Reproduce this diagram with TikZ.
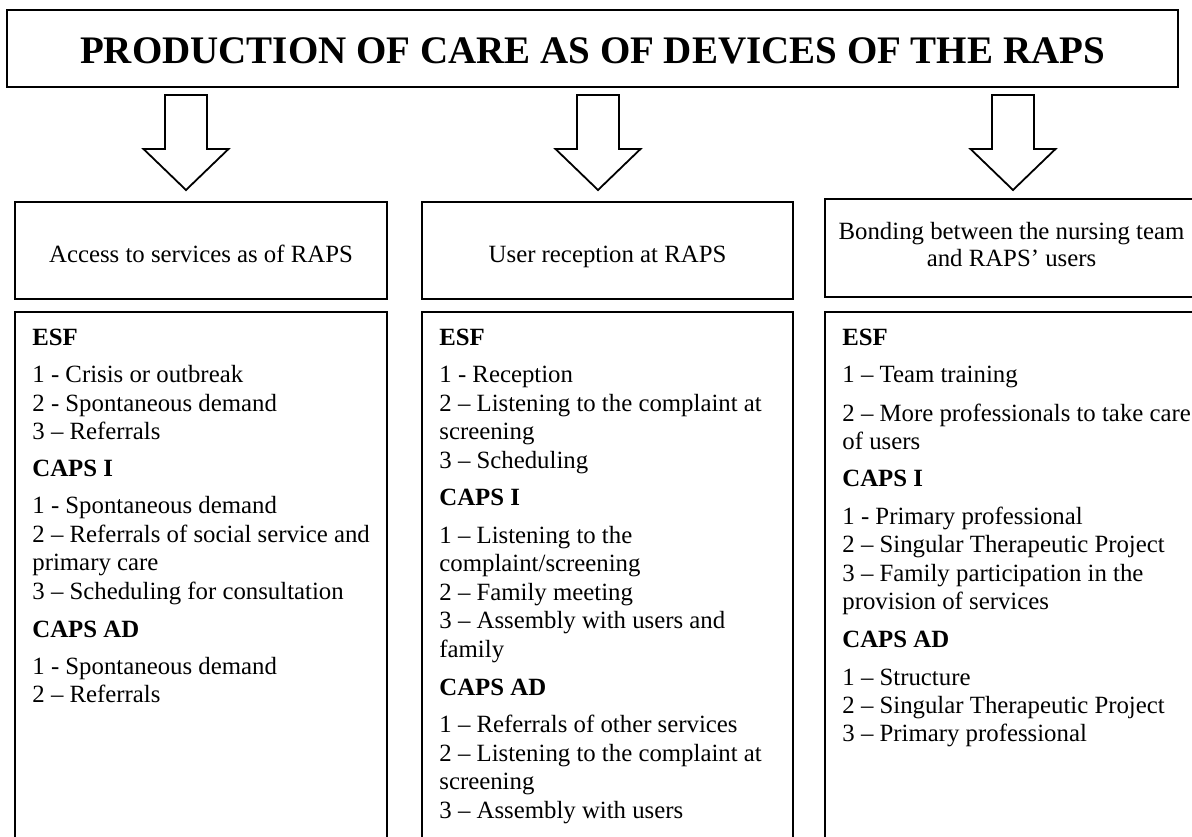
\documentclass[tikz,border=0pt]{standalone}
\usepackage{fontspec}
\setmainfont{Liberation Serif}
\usepackage{tikz}
\usetikzlibrary{fit}
\newcommand{\bodyfont}{\fontsize{12.4pt}{14pt}\selectfont}
\newcommand{\titlefont}{\fontsize{19.5pt}{23pt}\selectfont\bfseries}
\tikzstyle{box} = [draw=black, line width=1.3pt, inner sep=0pt]
\tikzstyle{heading} = [anchor=base, inner sep=0pt, font=\bodyfont]
\tikzstyle{group} = [anchor=base west, inner sep=0pt, font=\bodyfont\bfseries]
\tikzstyle{item} = [anchor=base west, inner sep=0pt, font=\bodyfont]
\tikzset{bigarrow/.pic={
    \draw[line width=0.9pt, line join=miter] (-21,0) -- (21,0) -- (21,54) -- (42.5,54) -- (0,95) -- (-42.5,54) -- (-21,54) -- cycle;
}}

\begin{document}
\begin{tikzpicture}[x=0.5pt, y=-0.5pt]
    \useasboundingbox (0,0) rectangle (1192,836);
    \clip (0,0) rectangle (1192,836);

    % title
    \node[box, line width=1.4pt, fit={(7,10) (1178,87)}] (title) {};
    \node[anchor=base, inner sep=0pt, font=\titlefont] (titletext) at (592.5,63) {PRODUCTION OF CARE AS OF DEVICES OF THE RAPS};

    % arrows
    \pic at (186,95) {bigarrow};
    \pic at (598,95) {bigarrow};
    \pic at (1013,95) {bigarrow};

    % headers
    \node[box, fit={(15,202) (387,299)}] (access) {};
    \node[box, fit={(422,202) (793,299)}] (reception) {};
    \node[box, fit={(825,199) (1210,297)}] (bonding) {};
    \node[heading] (accesstext) at (201,262) {Access to services as of RAPS};
    \node[heading] (receptiontext) at (607.5,262) {User reception at RAPS};
    \node[heading] (bondingtext1) at (1011.5,239) {Bonding between the nursing team};
    \node[heading] (bondingtext2) at (1011.5,266) {and RAPS’ users};

    % lists
    \node[box, fit={(15,312) (387,860)}] (accesslist) {};
    \node[box, fit={(422,312) (793,860)}] (receptionlist) {};
    \node[box, fit={(825,312) (1210,860)}] (bondinglist) {};

    \node[group] (a0) at (32,345) {ESF};
    \node[item] (a1) at (32,382) {1 - Crisis or outbreak};
    \node[item] (a2) at (32,411) {2 - Spontaneous demand};
    \node[item] (a3) at (32,439) {3 – Referrals};
    \node[group] (a4) at (32,476) {CAPS I};
    \node[item] (a5) at (32,513) {1 - Spontaneous demand};
    \node[item] (a6) at (32,542) {2 – Referrals of social service and};
    \node[item] (a7) at (32,570) {primary care};
    \node[item] (a8) at (32,599) {3 – Scheduling for consultation};
    \node[group] (a9) at (32,637) {CAPS AD};
    \node[item] (a10) at (32,674) {1 - Spontaneous demand};
    \node[item] (a11) at (32,702) {2 – Referrals};

    \node[group] (r0) at (439,345) {ESF};
    \node[item] (r1) at (439,382) {1 - Reception};
    \node[item] (r2) at (439,411) {2 – Listening to the complaint at};
    \node[item] (r3) at (439,439) {screening};
    \node[item] (r4) at (439,468) {3 – Scheduling};
    \node[group] (r5) at (439,505) {CAPS I};
    \node[item] (r6) at (439,543) {1 – Listening to the};
    \node[item] (r7) at (439,571) {complaint/screening};
    \node[item] (r8) at (439,600) {2 – Family meeting};
    \node[item] (r9) at (439,628) {3 – Assembly with users and};
    \node[item] (r10) at (439,657) {family};
    \node[group] (r11) at (439,695) {CAPS AD};
    \node[item] (r12) at (439,732) {1 – Referrals of other services};
    \node[item] (r13) at (439,761) {2 – Listening to the complaint at};
    \node[item] (r14) at (439,789) {screening};
    \node[item] (r15) at (439,818) {3 – Assembly with users};

    \node[group] (b0) at (842,345) {ESF};
    \node[item] (b1) at (842,382) {1 – Team training};
    \node[item] (b2) at (842,421) {2 – More professionals to take care};
    \node[item] (b3) at (842,449) {of users};
    \node[group] (b4) at (842,486) {CAPS I};
    \node[item] (b5) at (842,524) {1 - Primary professional};
    \node[item] (b6) at (842,552) {2 – Singular Therapeutic Project};
    \node[item] (b7) at (842,581) {3 – Family participation in the};
    \node[item] (b8) at (842,609) {provision of services};
    \node[group] (b9) at (842,647) {CAPS AD};
    \node[item] (b10) at (842,685) {1 – Structure};
    \node[item] (b11) at (842,713) {2 – Singular Therapeutic Project};
    \node[item] (b12) at (842,741) {3 – Primary professional};
\end{tikzpicture}
\end{document}
